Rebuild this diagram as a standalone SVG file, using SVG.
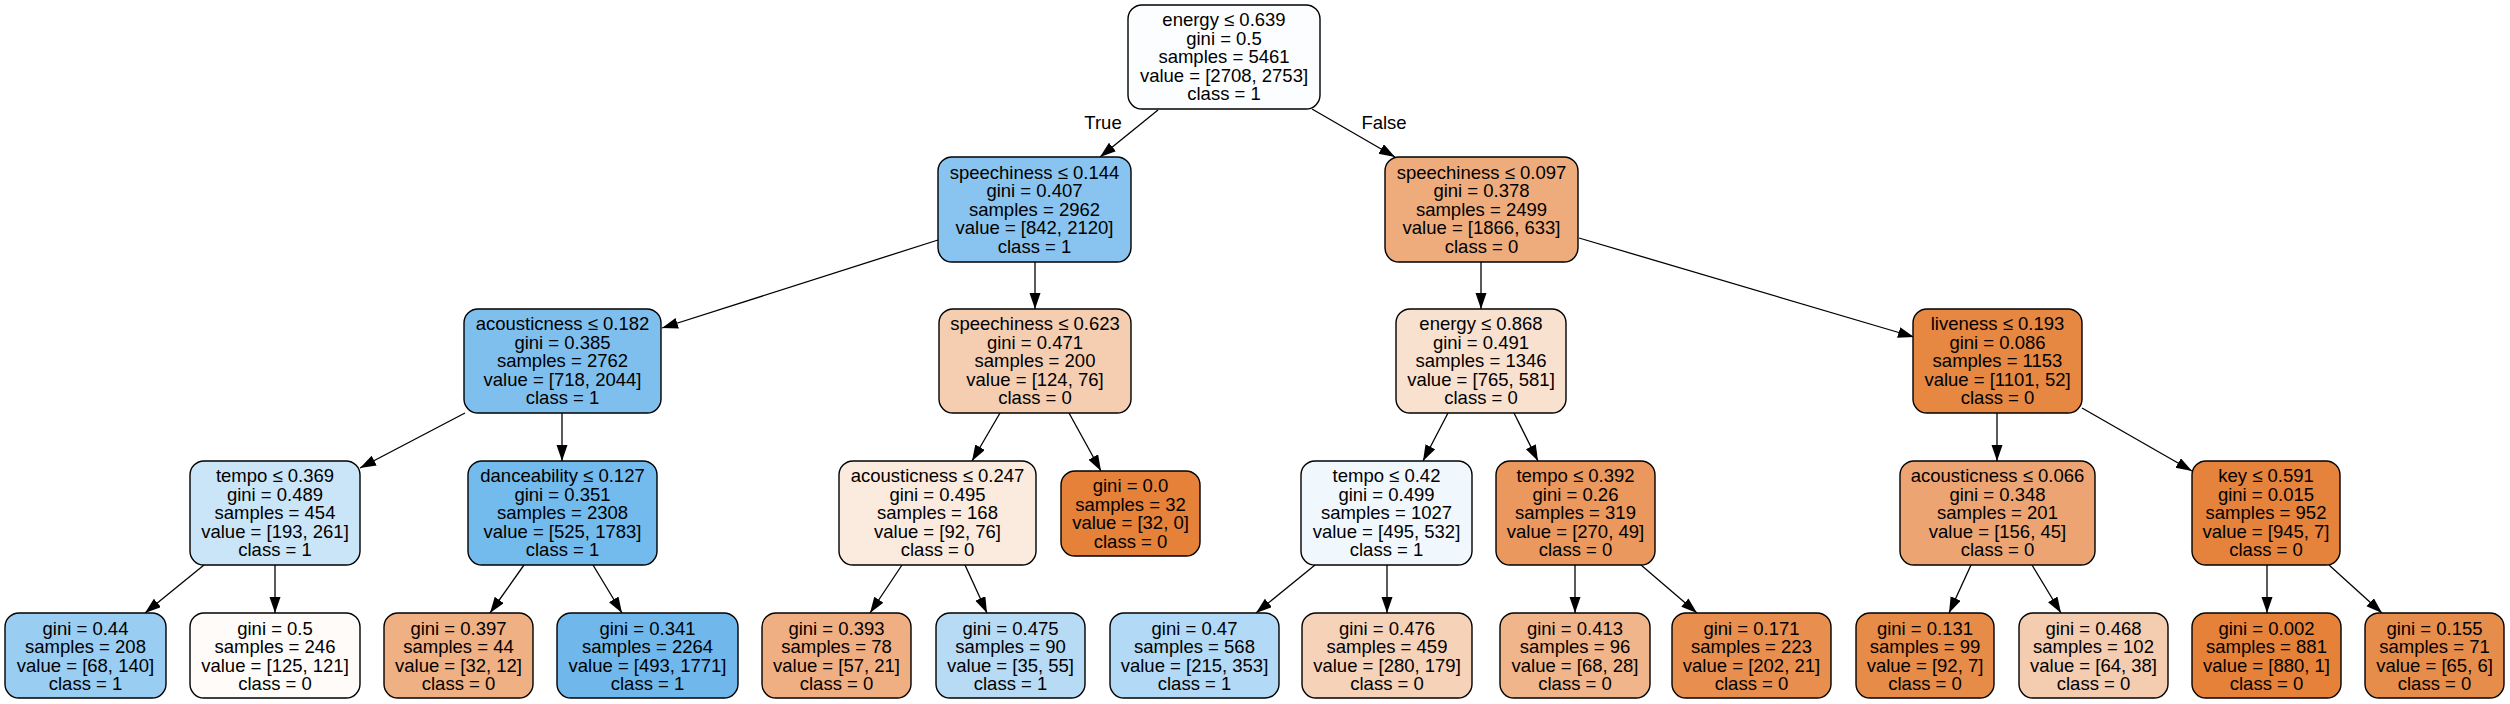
<svg xmlns="http://www.w3.org/2000/svg" width="2510" height="704" viewBox="0 0 2510 704">
<style>
.n rect{stroke:#000;stroke-width:1.4}
.n text,.lbl{font-family:"Liberation Sans",Arial,sans-serif;font-size:18.5px;fill:#000;text-anchor:middle}
.e line{stroke:#000;stroke-width:1.3;marker-end:url(#ah)}
</style>
<defs>
<marker id="ah" markerUnits="userSpaceOnUse" markerWidth="17" markerHeight="12" refX="16" refY="5.5" orient="auto"><path d="M0,0 L16,5.5 L0,11 z" fill="#000"/></marker>
</defs>
<rect width="2510" height="704" fill="#fff"/>
<g id="edges" class="e">
<line x1="1158" y1="110" x2="1100" y2="157"/>
<line x1="1312" y1="109" x2="1395" y2="157"/>
<line x1="938" y1="240" x2="662" y2="328"/>
<line x1="1035" y1="262" x2="1035" y2="309"/>
<line x1="1481" y1="262" x2="1481" y2="309"/>
<line x1="1579" y1="238" x2="1914" y2="337"/>
<line x1="465" y1="413" x2="360" y2="468"/>
<line x1="562" y1="413" x2="562" y2="461"/>
<line x1="1000" y1="413" x2="972" y2="461"/>
<line x1="1069" y1="413" x2="1101" y2="471"/>
<line x1="1448" y1="413" x2="1423" y2="461"/>
<line x1="1514" y1="413" x2="1538" y2="461"/>
<line x1="1997" y1="413" x2="1997" y2="461"/>
<line x1="2082" y1="408" x2="2192" y2="471"/>
<line x1="204" y1="565" x2="145" y2="613"/>
<line x1="275" y1="565" x2="275" y2="613"/>
<line x1="524" y1="565" x2="490" y2="613"/>
<line x1="593" y1="565" x2="622" y2="613"/>
<line x1="902" y1="565" x2="870" y2="613"/>
<line x1="965" y1="565" x2="987" y2="613"/>
<line x1="1315" y1="565" x2="1256" y2="613"/>
<line x1="1387" y1="565" x2="1387" y2="613"/>
<line x1="1575" y1="565" x2="1575" y2="613"/>
<line x1="1641" y1="565" x2="1697" y2="613"/>
<line x1="1971" y1="565" x2="1949" y2="613"/>
<line x1="2032" y1="565" x2="2061" y2="613"/>
<line x1="2267" y1="565" x2="2267" y2="613"/>
<line x1="2329" y1="565" x2="2382" y2="613"/>
<text class="lbl" x="1103" y="129">True</text>
<text class="lbl" x="1384" y="129">False</text>
</g>
<g id="n0" class="n"><rect x="1128" y="5" width="192" height="104" rx="14" fill="#fcfdff"/><text x="1224" y="26">energy ≤ 0.639<tspan x="1224" dy="18.5">gini = 0.5</tspan><tspan x="1224" dy="18.5">samples = 5461</tspan><tspan x="1224" dy="18.5">value = [2708, 2753]</tspan><tspan x="1224" dy="18.5">class = 1</tspan></text></g>
<g id="n1" class="n"><rect x="938" y="157" width="193" height="105" rx="14" fill="#88c4ef"/><text x="1034.5" y="178.5">speechiness ≤ 0.144<tspan x="1034.5" dy="18.5">gini = 0.407</tspan><tspan x="1034.5" dy="18.5">samples = 2962</tspan><tspan x="1034.5" dy="18.5">value = [842, 2120]</tspan><tspan x="1034.5" dy="18.5">class = 1</tspan></text></g>
<g id="n2" class="n"><rect x="1385" y="157" width="193" height="105" rx="14" fill="#eeac7c"/><text x="1481.5" y="178.5">speechiness ≤ 0.097<tspan x="1481.5" dy="18.5">gini = 0.378</tspan><tspan x="1481.5" dy="18.5">samples = 2499</tspan><tspan x="1481.5" dy="18.5">value = [1866, 633]</tspan><tspan x="1481.5" dy="18.5">class = 0</tspan></text></g>
<g id="n3" class="n"><rect x="464" y="309" width="197" height="104" rx="14" fill="#7fbfee"/><text x="562.5" y="330">acousticness ≤ 0.182<tspan x="562.5" dy="18.5">gini = 0.385</tspan><tspan x="562.5" dy="18.5">samples = 2762</tspan><tspan x="562.5" dy="18.5">value = [718, 2044]</tspan><tspan x="562.5" dy="18.5">class = 1</tspan></text></g>
<g id="n4" class="n"><rect x="939" y="309" width="192" height="104" rx="14" fill="#f5ceb2"/><text x="1035" y="330">speechiness ≤ 0.623<tspan x="1035" dy="18.5">gini = 0.471</tspan><tspan x="1035" dy="18.5">samples = 200</tspan><tspan x="1035" dy="18.5">value = [124, 76]</tspan><tspan x="1035" dy="18.5">class = 0</tspan></text></g>
<g id="n5" class="n"><rect x="1396" y="309" width="170" height="104" rx="14" fill="#f9e1cf"/><text x="1481" y="330">energy ≤ 0.868<tspan x="1481" dy="18.5">gini = 0.491</tspan><tspan x="1481" dy="18.5">samples = 1346</tspan><tspan x="1481" dy="18.5">value = [765, 581]</tspan><tspan x="1481" dy="18.5">class = 0</tspan></text></g>
<g id="n6" class="n"><rect x="1913" y="309" width="169" height="104" rx="14" fill="#e68742"/><text x="1997.5" y="330">liveness ≤ 0.193<tspan x="1997.5" dy="18.5">gini = 0.086</tspan><tspan x="1997.5" dy="18.5">samples = 1153</tspan><tspan x="1997.5" dy="18.5">value = [1101, 52]</tspan><tspan x="1997.5" dy="18.5">class = 0</tspan></text></g>
<g id="n7" class="n"><rect x="190" y="461" width="170" height="104" rx="14" fill="#cbe5f8"/><text x="275" y="482">tempo ≤ 0.369<tspan x="275" dy="18.5">gini = 0.489</tspan><tspan x="275" dy="18.5">samples = 454</tspan><tspan x="275" dy="18.5">value = [193, 261]</tspan><tspan x="275" dy="18.5">class = 1</tspan></text></g>
<g id="n8" class="n"><rect x="468" y="461" width="189" height="104" rx="14" fill="#73baed"/><text x="562.5" y="482">danceability ≤ 0.127<tspan x="562.5" dy="18.5">gini = 0.351</tspan><tspan x="562.5" dy="18.5">samples = 2308</tspan><tspan x="562.5" dy="18.5">value = [525, 1783]</tspan><tspan x="562.5" dy="18.5">class = 1</tspan></text></g>
<g id="n9" class="n"><rect x="839" y="461" width="197" height="104" rx="14" fill="#fbeade"/><text x="937.5" y="482">acousticness ≤ 0.247<tspan x="937.5" dy="18.5">gini = 0.495</tspan><tspan x="937.5" dy="18.5">samples = 168</tspan><tspan x="937.5" dy="18.5">value = [92, 76]</tspan><tspan x="937.5" dy="18.5">class = 0</tspan></text></g>
<g id="n10" class="n"><rect x="1061" y="471" width="139" height="85" rx="14" fill="#e58139"/><text x="1130.5" y="492">gini = 0.0<tspan x="1130.5" dy="18.5">samples = 32</tspan><tspan x="1130.5" dy="18.5">value = [32, 0]</tspan><tspan x="1130.5" dy="18.5">class = 0</tspan></text></g>
<g id="n11" class="n"><rect x="1301" y="461" width="171" height="104" rx="14" fill="#f1f8fd"/><text x="1386.5" y="482">tempo ≤ 0.42<tspan x="1386.5" dy="18.5">gini = 0.499</tspan><tspan x="1386.5" dy="18.5">samples = 1027</tspan><tspan x="1386.5" dy="18.5">value = [495, 532]</tspan><tspan x="1386.5" dy="18.5">class = 1</tspan></text></g>
<g id="n12" class="n"><rect x="1496" y="461" width="159" height="104" rx="14" fill="#ea985d"/><text x="1575.5" y="482">tempo ≤ 0.392<tspan x="1575.5" dy="18.5">gini = 0.26</tspan><tspan x="1575.5" dy="18.5">samples = 319</tspan><tspan x="1575.5" dy="18.5">value = [270, 49]</tspan><tspan x="1575.5" dy="18.5">class = 0</tspan></text></g>
<g id="n13" class="n"><rect x="1900" y="461" width="195" height="104" rx="14" fill="#eca572"/><text x="1997.5" y="482">acousticness ≤ 0.066<tspan x="1997.5" dy="18.5">gini = 0.348</tspan><tspan x="1997.5" dy="18.5">samples = 201</tspan><tspan x="1997.5" dy="18.5">value = [156, 45]</tspan><tspan x="1997.5" dy="18.5">class = 0</tspan></text></g>
<g id="n14" class="n"><rect x="2192" y="461" width="148" height="104" rx="14" fill="#e5823b"/><text x="2266" y="482">key ≤ 0.591<tspan x="2266" dy="18.5">gini = 0.015</tspan><tspan x="2266" dy="18.5">samples = 952</tspan><tspan x="2266" dy="18.5">value = [945, 7]</tspan><tspan x="2266" dy="18.5">class = 0</tspan></text></g>
<g id="n15" class="n"><rect x="5" y="613" width="161" height="85" rx="14" fill="#99cdf2"/><text x="85.5" y="634.5">gini = 0.44<tspan x="85.5" dy="18.5">samples = 208</tspan><tspan x="85.5" dy="18.5">value = [68, 140]</tspan><tspan x="85.5" dy="18.5">class = 1</tspan></text></g>
<g id="n16" class="n"><rect x="190" y="613" width="170" height="85" rx="14" fill="#fefbf8"/><text x="275" y="634.5">gini = 0.5<tspan x="275" dy="18.5">samples = 246</tspan><tspan x="275" dy="18.5">value = [125, 121]</tspan><tspan x="275" dy="18.5">class = 0</tspan></text></g>
<g id="n17" class="n"><rect x="384" y="613" width="149" height="85" rx="14" fill="#efb083"/><text x="458.5" y="634.5">gini = 0.397<tspan x="458.5" dy="18.5">samples = 44</tspan><tspan x="458.5" dy="18.5">value = [32, 12]</tspan><tspan x="458.5" dy="18.5">class = 0</tspan></text></g>
<g id="n18" class="n"><rect x="557" y="613" width="181" height="85" rx="14" fill="#70b8ec"/><text x="647.5" y="634.5">gini = 0.341<tspan x="647.5" dy="18.5">samples = 2264</tspan><tspan x="647.5" dy="18.5">value = [493, 1771]</tspan><tspan x="647.5" dy="18.5">class = 1</tspan></text></g>
<g id="n19" class="n"><rect x="762" y="613" width="149" height="85" rx="14" fill="#efaf82"/><text x="836.5" y="634.5">gini = 0.393<tspan x="836.5" dy="18.5">samples = 78</tspan><tspan x="836.5" dy="18.5">value = [57, 21]</tspan><tspan x="836.5" dy="18.5">class = 0</tspan></text></g>
<g id="n20" class="n"><rect x="936" y="613" width="149" height="85" rx="14" fill="#b7dbf5"/><text x="1010.5" y="634.5">gini = 0.475<tspan x="1010.5" dy="18.5">samples = 90</tspan><tspan x="1010.5" dy="18.5">value = [35, 55]</tspan><tspan x="1010.5" dy="18.5">class = 1</tspan></text></g>
<g id="n21" class="n"><rect x="1110" y="613" width="169" height="85" rx="14" fill="#b2d9f5"/><text x="1194.5" y="634.5">gini = 0.47<tspan x="1194.5" dy="18.5">samples = 568</tspan><tspan x="1194.5" dy="18.5">value = [215, 353]</tspan><tspan x="1194.5" dy="18.5">class = 1</tspan></text></g>
<g id="n22" class="n"><rect x="1302" y="613" width="170" height="85" rx="14" fill="#f6d2b8"/><text x="1387" y="634.5">gini = 0.476<tspan x="1387" dy="18.5">samples = 459</tspan><tspan x="1387" dy="18.5">value = [280, 179]</tspan><tspan x="1387" dy="18.5">class = 0</tspan></text></g>
<g id="n23" class="n"><rect x="1500" y="613" width="150" height="85" rx="14" fill="#f0b58a"/><text x="1575" y="634.5">gini = 0.413<tspan x="1575" dy="18.5">samples = 96</tspan><tspan x="1575" dy="18.5">value = [68, 28]</tspan><tspan x="1575" dy="18.5">class = 0</tspan></text></g>
<g id="n24" class="n"><rect x="1672" y="613" width="159" height="85" rx="14" fill="#e88e4e"/><text x="1751.5" y="634.5">gini = 0.171<tspan x="1751.5" dy="18.5">samples = 223</tspan><tspan x="1751.5" dy="18.5">value = [202, 21]</tspan><tspan x="1751.5" dy="18.5">class = 0</tspan></text></g>
<g id="n25" class="n"><rect x="1856" y="613" width="138" height="85" rx="14" fill="#e78b48"/><text x="1925" y="634.5">gini = 0.131<tspan x="1925" dy="18.5">samples = 99</tspan><tspan x="1925" dy="18.5">value = [92, 7]</tspan><tspan x="1925" dy="18.5">class = 0</tspan></text></g>
<g id="n26" class="n"><rect x="2019" y="613" width="149" height="85" rx="14" fill="#f4ccaf"/><text x="2093.5" y="634.5">gini = 0.468<tspan x="2093.5" dy="18.5">samples = 102</tspan><tspan x="2093.5" dy="18.5">value = [64, 38]</tspan><tspan x="2093.5" dy="18.5">class = 0</tspan></text></g>
<g id="n27" class="n"><rect x="2192" y="613" width="149" height="85" rx="14" fill="#e58139"/><text x="2266.5" y="634.5">gini = 0.002<tspan x="2266.5" dy="18.5">samples = 881</tspan><tspan x="2266.5" dy="18.5">value = [880, 1]</tspan><tspan x="2266.5" dy="18.5">class = 0</tspan></text></g>
<g id="n28" class="n"><rect x="2365" y="613" width="139" height="85" rx="14" fill="#e78d4b"/><text x="2434.5" y="634.5">gini = 0.155<tspan x="2434.5" dy="18.5">samples = 71</tspan><tspan x="2434.5" dy="18.5">value = [65, 6]</tspan><tspan x="2434.5" dy="18.5">class = 0</tspan></text></g>
</svg>
